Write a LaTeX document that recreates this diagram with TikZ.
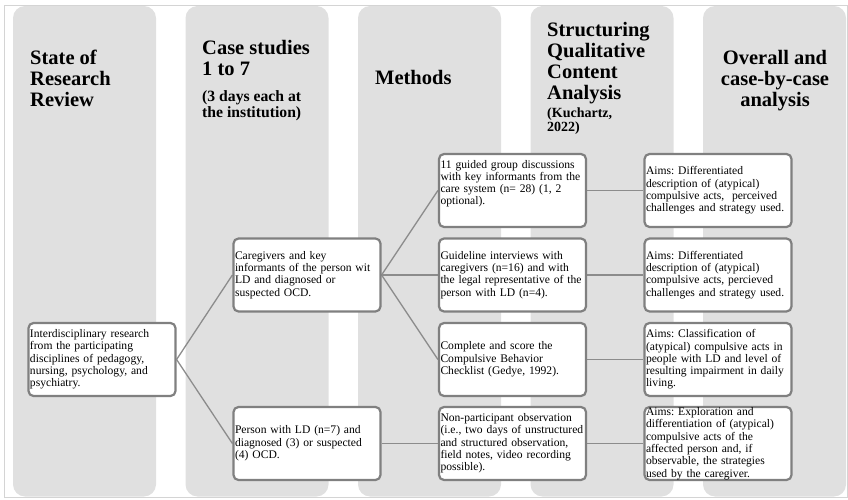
\documentclass[tikz,border=0pt]{standalone}
\usepackage{fontspec}
\setmainfont{Liberation Serif}
\usetikzlibrary{backgrounds}
\definecolor{colfill}{RGB}{224,224,224}
\definecolor{boxline}{RGB}{128,128,128}
\definecolor{linkline}{RGB}{140,140,140}
\definecolor{frameline}{RGB}{212,212,212}
\newcommand{\boxfont}{\fontsize{11.6bp}{12.3bp}\selectfont\frenchspacing\hyphenpenalty=10000\relax}
\tikzset{
  colbg/.style={fill=colfill, rounded corners=12bp},
  infobox/.style={draw=boxline, line width=2.2bp, fill=white, rounded corners=5bp,
    text width=144bp, inner xsep=1.5bp, inner ysep=0pt, minimum height=73bp, align=left,
    font=\boxfont},
  head/.style={inner sep=0pt, align=left, anchor=base west,
    font=\bfseries\fontsize{20.5bp}{21bp}\selectfont},
  subhead/.style={inner sep=0pt, align=left, anchor=base west, font=\bfseries},
  link/.style={draw=linkline, line width=1.3bp}
}
\begin{document}
\begin{tikzpicture}[x=1bp, y=-1bp]
\useasboundingbox (0,0) rectangle (848,500);
\draw[frameline, line width=0.8bp] (4,5) rectangle (847.5,497);
\begin{scope}[on background layer]
  \foreach \i in {0,...,4}
    \path[colbg] (13+172.5*\i,6) rectangle (156+172.5*\i,496.5);
\end{scope}
\node[head] (hstate) at (30,107) {State of\\Research\\Review};
\node[head] (hcase) at (202,76) {Case studies\\1 to 7};
\node[subhead, font=\bfseries\fontsize{15.7bp}{16.5bp}\selectfont] (hdays) at (202,118) {(3 days each at\\the institution)};
\node[head] (hmeth) at (375,85) {Methods};
\node[head] (hqca) at (547,100) {Structuring\\Qualitative\\Content\\Analysis};
\node[subhead, font=\bfseries\fontsize{14bp}{14bp}\selectfont] (hkuch) at (547,131.7) {(Kuchartz,\\2022)};
\node[head, align=center, anchor=base] (hall) at (775,107) {Overall and\\case-by-case\\analysis};
\node[infobox] (interd) at (102,359.5) {Interdisciplinary research\\from the participating\\disciplines of pedagogy,\\nursing, psychology, and\\psychiatry.};
\node[infobox] (care) at (307,275) {Caregivers and key\\informants of the person wit\\LD and diagnosed or\\suspected OCD.};
\node[infobox] (person) at (307,443.5) {Person with LD (n=7) and\\diagnosed (3) or suspected\\(4) OCD.};
\node[infobox] (group) at (512.5,190.5) {11 guided group discussions\\with key informants from the\\care system (n= 28) (1, 2\\optional).\\\strut};
\node[infobox] (interv) at (512.5,275) {Guideline interviews with\\caregivers (n=16) and with\\the legal representative of the\\person with LD (n=4).};
\node[infobox] (check) at (512.5,359.5) {Complete and score the\\Compulsive Behavior\\Checklist (Gedye, 1992).};
\node[infobox] (observ) at (512.5,443.5) {Non-participant observation\\(i.e., two days of unstructured\\and structured observation,\\field notes, video recording\\possible).};
\node[infobox] (aimsa) at (718,190.5) {Aims: Differentiated\\description of (atypical)\\compulsive acts,~ perceived\\challenges and strategy used.};
\node[infobox] (aimsb) at (718,275) {Aims: Differentiated\\description of (atypical)\\compulsive acts, percieved\\challenges and strategy used.};
\node[infobox] (aimsc) at (718,359.5) {Aims: Classification of\\(atypical) compulsive acts in\\people with LD and level of\\resulting impairment in daily\\living.};
\node[infobox] (aimsd) at (718,443.5) {Aims: Exploration and\\differentiation of (atypical)\\compulsive acts of the\\affected person and, if\\observable, the strategies\\used by the caregiver.};
\begin{scope}[on background layer]
  \draw[link] (interd.east) -- (care.west);
  \draw[link] (interd.east) -- (person.west);
  \draw[link] (care.east) -- (group.west);
  \draw[link] (care.east) -- (interv.west);
  \draw[link] (care.east) -- (check.west);
  \draw[link] (person.east) -- (observ.west);
  \draw[link] (group) -- (aimsa);
  \draw[link] (interv) -- (aimsb);
  \draw[link] (check) -- (aimsc);
  \draw[link] (observ) -- (aimsd);
\end{scope}
\end{tikzpicture}
\end{document}
